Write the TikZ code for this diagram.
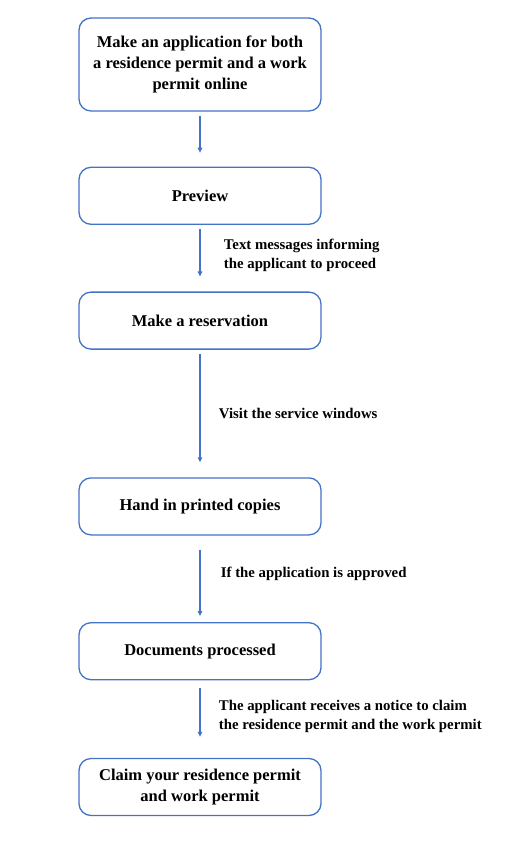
\documentclass[tikz,border=0pt]{standalone}
\usepackage{fontspec}
\setmainfont{Liberation Serif}
\usepackage{xcolor}
\usetikzlibrary{arrows.meta,positioning}
\definecolor{boxblue}{RGB}{68,114,196}

\begin{document}
\begin{tikzpicture}[
  x=1pt, y=1pt,
  stepbox/.style={draw=boxblue, line width=1.3pt, rounded corners=12pt,
                  minimum width=242pt, minimum height=57pt, align=center,
                  font=\fontsize{16.5}{21}\selectfont\bfseries, text=black},
  lbl/.style={font=\fontsize{14.8}{19}\selectfont\bfseries, align=left,
              anchor=west, text=black},
  arr/.style={-{Triangle[length=5pt,width=4.5pt]}, boxblue, line width=1.2pt}
]
  \useasboundingbox (0,0) rectangle (505,-859);

  \node[stepbox, minimum height=93pt] (apply) at (200,-64.5)
    {Make an application for both\\a residence permit and a work\\permit online};
  \node[stepbox, below=55pt of apply]     (preview) {Preview};
  \node[stepbox, below=66.5pt of preview] (reserve) {Make a reservation};
  \node[stepbox, below=127.5pt of reserve] (handin) {Hand in printed copies};
  \node[stepbox, below=86.5pt of handin]  (process) {Documents processed};
  \node[stepbox, below=77.5pt of process] (claim)
    {Claim your residence permit\\and work permit};

  \draw[arr, shorten <=4pt, shorten >=14pt] (apply) -- (preview);
  \draw[arr, shorten <=4pt, shorten >=15pt] (preview) -- (reserve)
    node[lbl, pos=0.45, xshift=20pt] (msg) {Text messages informing\\the applicant to proceed};
  \draw[arr, shorten <=4pt, shorten >=15pt] (reserve) -- (handin)
    node[lbl, pos=0.5, xshift=15pt] (visit) {Visit the service windows};
  \draw[arr, shorten <=14pt, shorten >=6pt] (handin) -- (process)
    node[lbl, pos=0.44, xshift=17pt] (approved) {If the application is approved};
  \draw[arr, shorten <=8pt, shorten >=21pt] (process) -- (claim)
    node[lbl, pos=0.47, xshift=15pt] (notice) {The applicant receives a notice to claim\\the residence permit and the work permit};
\end{tikzpicture}
\end{document}
